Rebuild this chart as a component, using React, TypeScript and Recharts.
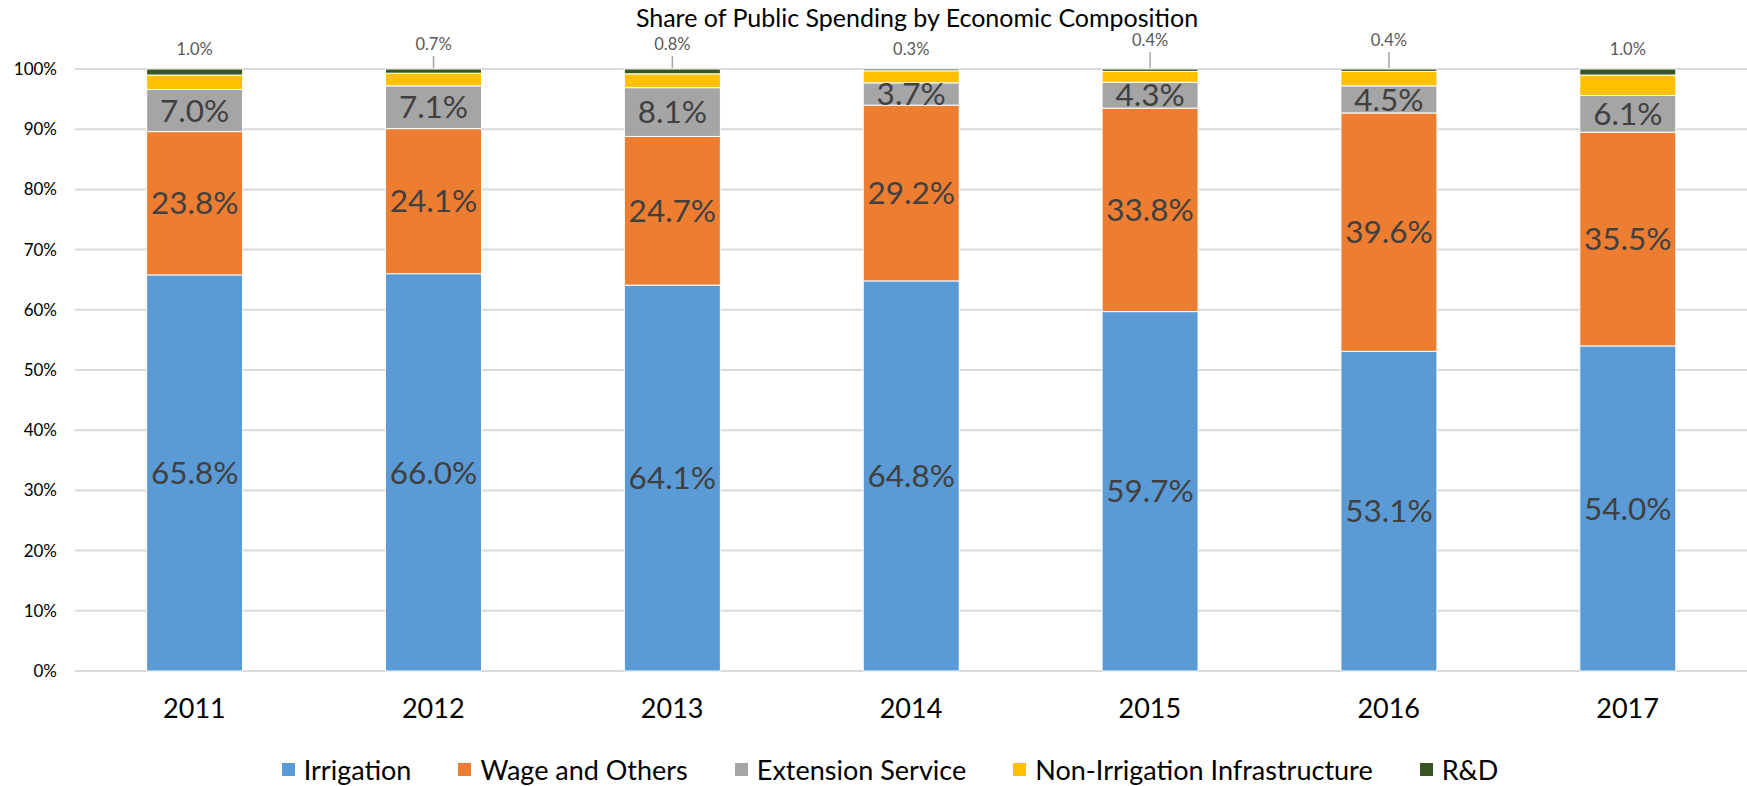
import React from 'react';
import { BarChart, Bar, XAxis, YAxis, CartesianGrid, Legend, LabelList } from 'recharts';

const years = ['2011', '2012', '2013', '2014', '2015', '2016', '2017'];
const irrigation = [65.8, 66.0, 64.1, 64.8, 59.7, 53.1, 54.0];
const wageAndOthers = [23.8, 24.1, 24.7, 29.2, 33.8, 39.6, 35.5];
const extensionService = [7.0, 7.1, 8.1, 3.7, 4.3, 4.5, 6.1];
const nonIrrigation = [2.4, 2.1, 2.3, 2.0, 1.8, 2.4, 3.4];
const rAndD = [1.0, 0.7, 0.8, 0.3, 0.4, 0.4, 1.0];
const yTicks = [0, 10, 20, 30, 40, 50, 60, 70, 80, 90, 100];

const series = [
  { key: 'irrigation', name: 'Irrigation', color: '#5B9BD5' },
  { key: 'wage', name: 'Wage and Others', color: '#ED7D31' },
  { key: 'extension', name: 'Extension Service', color: '#A5A5A5' },
  { key: 'nonIrrigation', name: 'Non-Irrigation Infrastructure', color: '#FFC000' },
  { key: 'rd', name: 'R&D', color: '#375623' },
];

// extra lift for the small R&D labels that Excel pushed up with a leader line
const rdLabelLift = [0, 5, 5, 0, 9, 9, 0];

const data = years.map((year, i) => ({
  year,
  irrigation: irrigation[i],
  wage: wageAndOthers[i],
  extension: extensionService[i],
  nonIrrigation: nonIrrigation[i],
  rd: rAndD[i],
}));

const FONT = 'Lato, "Open Sans", sans-serif';
const fmt = (v: any) => `${Number(v).toFixed(1)}%`;

const RdLabel = (props: any) => {
  const { x, y, width, value, index } = props;
  const cx = x + width / 2;
  const lift = rdLabelLift[index] || 0;
  const ty = y - 18 - lift;
  return (
    <g>
      {lift > 0 && (
        <line x1={cx} x2={cx} y1={ty + 10} y2={y - 1} stroke="#A5A5A5" strokeWidth={1.5} />
      )}
      <text x={cx} y={ty} textAnchor="middle" dominantBaseline="middle" fill="#595959" fontSize={16.5} fontFamily={FONT}>
        {fmt(value)}
      </text>
    </g>
  );
};

const LegendContent = () => (
  <div style={{ display: 'flex', justifyContent: 'center', alignItems: 'center', paddingLeft: 33, height: 34, fontFamily: FONT, fontSize: 27, color: '#000' }}>
    {series.map((s, i) => (
      <div key={s.key} style={{ display: 'flex', alignItems: 'center', marginLeft: i === 0 ? 0 : 47 }}>
        <span style={{ width: 13, height: 13, background: s.color, display: 'inline-block', marginRight: 9 }} />
        <span>{s.name}</span>
      </div>
    ))}
  </div>
);

export default function App() {
  return (
    <div style={{ position: 'absolute', left: 0, top: 0, width: 1747, height: 786, background: '#fff' }}>
      <div style={{ position: 'absolute', left: 0, top: 2, width: 1834, textAlign: 'center', fontFamily: FONT, fontSize: 25, lineHeight: '30px', color: '#000', zIndex: 2 }}>
        Share of Public Spending by Economic Composition
      </div>
      <BarChart width={1747} height={786} data={data} margin={{ top: 69, right: 0, left: 0, bottom: 0 }} barCategoryGap="30%">
        <CartesianGrid vertical={false} stroke="#D9D9D9" strokeWidth={2} />
        <XAxis
          dataKey="year"
          axisLine={false}
          tickLine={false}
          height={81}
          tickMargin={22}
          tick={{ fill: '#000', fontSize: 27, fontFamily: FONT }}
        />
        <YAxis
          width={75}
          domain={[0, 100]}
          ticks={yTicks}
          axisLine={false}
          tickLine={false}
          tickMargin={12}
          tickFormatter={(v) => `${v}%`}
          tick={{ fill: '#000', fontSize: 17, fontFamily: FONT }}
        />
        <Legend verticalAlign="bottom" height={34} content={<LegendContent />} />
        <Bar dataKey="irrigation" name="Irrigation" stackId="a" fill="#5B9BD5" stroke="#fff" strokeWidth={1} isAnimationActive={false}>
          <LabelList dataKey="irrigation" position="center" formatter={fmt} fill="#404040" fontSize={31.5} fontFamily={FONT} />
        </Bar>
        <Bar dataKey="wage" name="Wage and Others" stackId="a" fill="#ED7D31" stroke="#fff" strokeWidth={1} isAnimationActive={false}>
          <LabelList dataKey="wage" position="center" formatter={fmt} fill="#404040" fontSize={31.5} fontFamily={FONT} />
        </Bar>
        <Bar dataKey="extension" name="Extension Service" stackId="a" fill="#A5A5A5" stroke="#fff" strokeWidth={1} isAnimationActive={false}>
          <LabelList dataKey="extension" position="center" formatter={fmt} fill="#404040" fontSize={31.5} fontFamily={FONT} />
        </Bar>
        <Bar dataKey="nonIrrigation" name="Non-Irrigation Infrastructure" stackId="a" fill="#FFC000" stroke="#fff" strokeWidth={1} isAnimationActive={false} />
        <Bar dataKey="rd" name="R&D" stackId="a" fill="#375623" stroke="#fff" strokeWidth={1} isAnimationActive={false}>
          <LabelList dataKey="rd" content={<RdLabel />} />
        </Bar>
      </BarChart>
    </div>
  );
}
